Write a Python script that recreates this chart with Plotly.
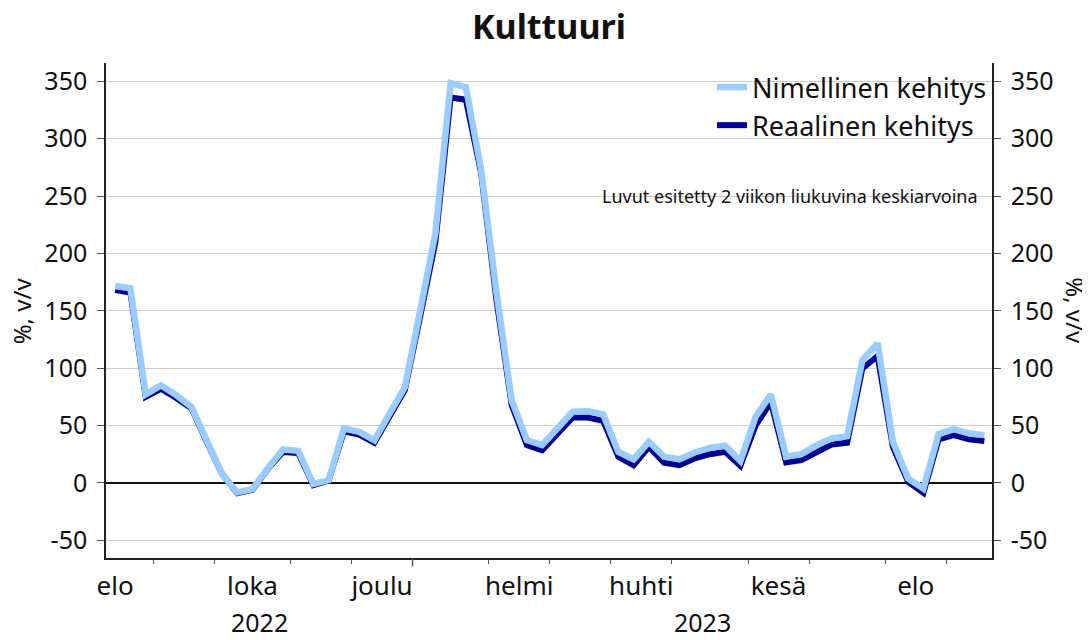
import pandas as pd
import plotly.graph_objects as go

# weekly data, week starting mondays
first_week = "2022-08-15"
n_weeks = 58

nominal = [
    171.6, 169.6, 77.0, 85.0, 76.5, 66.3, 37.0, 8.0, -8.4, -5.5,
    12.5, 29.0, 28.0, -1.0, 2.4, 47.4, 44.5, 37.0, 60.5, 83.5,
    150.0, 217.6, 348.5, 345.0, 273.0, 166.7, 72.0, 37.3, 33.0, 47.5,
    62.0, 62.5, 59.7, 27.0, 20.4, 35.8, 22.7, 20.4, 26.5, 30.5,
    32.3, 19.0, 57.6, 77.0, 22.7, 25.0, 32.9, 38.7, 40.7, 107.0,
    121.6, 35.8, 3.8, -4.9, 42.5, 46.9, 43.0, 41.6,
]
real = [
    168.0, 166.0, 75.0, 82.0, 74.0, 65.0, 36.0, 8.0, -9.0, -6.0,
    12.0, 27.0, 26.0, -2.0, 2.0, 45.0, 42.0, 35.0, 58.0, 81.0,
    145.0, 210.0, 336.0, 334.0, 270.0, 160.0, 68.0, 33.0, 28.5, 43.0,
    57.0, 57.0, 54.0, 22.7, 15.4, 31.4, 17.5, 15.4, 21.3, 25.0,
    27.0, 14.8, 50.0, 70.7, 17.8, 19.8, 27.0, 33.5, 35.0, 99.8,
    110.6, 31.4, 0.9, -8.7, 37.9, 41.6, 37.9, 36.4,
]

y_ticks = [-50, 0, 50, 100, 150, 200, 250, 300, 350]
y_tick_text = [str(v) for v in y_ticks]

month_names = ["tammi", "helmi", "maalis", "huhti", "touko", "kesä",
               "heinä", "elo", "syys", "loka", "marras", "joulu"]

name_nominal = "Nimellinen kehitys"
name_real = "Reaalinen kehitys"
note = "Luvut esitetty 2 viikon liukuvina keskiarvoina"
y_title = "%, v/v"

weeks = pd.date_range(first_week, periods=n_weeks, freq="7D")
half_week = pd.Timedelta(days=3.5)


def month_start(ts):
    # boundary between weeks: half a week before the first monday of the month
    first = ts.to_period("M").to_timestamp()
    first_monday = first + pd.Timedelta(days=(7 - first.weekday()) % 7)
    return first_monday - half_week


months = pd.period_range(weeks[0].to_period("M"), weeks[-1].to_period("M") + 1, freq="M")
bounds = [month_start(m.to_timestamp()) for m in months]
month_centers = [b0 + (b1 - b0) / 2 for b0, b1 in zip(bounds[:-1], bounds[1:])]

x_start = weeks[0] - pd.Timedelta(days=4.2)
x_end = weeks[-1] + half_week
inner_bounds = [b for b in bounds if x_start < b < x_end]
year_bound = [b for b in inner_bounds if b.month == 12 and b.day > 20][0]

label_vals = month_centers[::2]
label_text = [month_names[m.month - 1] for m in months[:-1][::2]]

font = "Noto Sans"

fig = go.Figure()

fig.add_trace(
    go.Scatter(
        x=weeks,
        y=real,
        mode="lines",
        name=name_real,
        legendgroup="real",
        legendrank=2,
        line=dict(color="#000099", width=6),
        yaxis="y",
    )
)
fig.add_trace(
    go.Scatter(
        x=weeks,
        y=nominal,
        mode="lines",
        name=name_nominal,
        legendgroup="nominal",
        legendrank=1,
        line=dict(color="#99CCFF", width=6.5),
        yaxis="y2",
    )
)

axis_common = dict(
    range=[-65.5, 366],
    tickmode="array",
    tickvals=y_ticks,
    ticktext=y_tick_text,
    showline=True,
    linecolor="#222222",
    linewidth=1.5,
    ticks="outside",
    ticklen=7,
    tickcolor="#555555",
    ticklabelstandoff=5,
    tickfont=dict(size=25, color="#111111"),
)

# page body adds 8px around the figure, so the figure is 8px smaller
fig.update_layout(
    width=1082,
    height=632,
    plot_bgcolor="white",
    paper_bgcolor="white",
    font=dict(family=font, color="#111111"),
    margin=dict(l=98, r=98, t=55, b=82, autoexpand=False),
    title=dict(
        text="<b>Kulttuuri</b>",
        font=dict(size=34, family=font, color="#111111"),
        x=0.5,
        xref="paper",
        xanchor="center",
        y=0.97,
        yanchor="middle",
    ),
    xaxis=dict(
        type="date",
        range=[x_start, x_end],
        tickmode="array",
        tickvals=label_vals,
        ticktext=label_text,
        ticks="",
        ticklabelstandoff=4,
        tickfont=dict(size=26, color="#111111"),
        showgrid=False,
        showline=True,
        linecolor="#222222",
        linewidth=1.5,
        minor=dict(
            tickmode="array",
            tickvals=inner_bounds,
            ticks="outside",
            ticklen=4,
            tickcolor="#555555",
            showgrid=False,
        ),
    ),
    yaxis=dict(
        **axis_common,
        showgrid=True,
        gridcolor="#cccccc",
        gridwidth=1,
        zeroline=True,
        zerolinecolor="#111111",
        zerolinewidth=1.5,
    ),
    yaxis2=dict(
        **axis_common,
        overlaying="y",
        side="right",
        matches="y",
        showgrid=False,
        zeroline=False,
    ),
    legend=dict(
        x=1,
        xanchor="right",
        y=1.0,
        yanchor="top",
        font=dict(size=27, color="#111111"),
        bgcolor="rgba(0,0,0,0)",
        tracegroupgap=14,
        traceorder="normal",
    ),
    showlegend=True,
)

# longer tick at the turn of the year
fig.add_shape(
    type="line",
    xref="x",
    yref="paper",
    x0=year_bound,
    x1=year_bound,
    y0=0,
    y1=-0.017,
    line=dict(color="#555555", width=1.5),
)

# year labels centred on the visible part of each year
for y0, y1, label in [(x_start, year_bound, "2022"), (year_bound, x_end, "2023")]:
    fig.add_annotation(
        x=y0 + (y1 - y0) / 2,
        xref="x",
        y=-0.13,
        yref="paper",
        text=label,
        showarrow=False,
        font=dict(size=25, color="#111111"),
        xanchor="center",
        yanchor="middle",
    )

fig.add_annotation(
    x=0.986,
    xref="paper",
    y=0.731,
    yref="paper",
    text=note,
    showarrow=False,
    font=dict(size=18, color="#111111"),
    xanchor="right",
    yanchor="middle",
)

fig.add_annotation(
    x=-0.095,
    xref="paper",
    y=0.5,
    yref="paper",
    text=y_title,
    textangle=-90,
    showarrow=False,
    font=dict(size=24, color="#111111"),
    xanchor="center",
    yanchor="middle",
)
fig.add_annotation(
    x=1.094,
    xref="paper",
    y=0.5,
    yref="paper",
    text=y_title,
    textangle=90,
    showarrow=False,
    font=dict(size=24, color="#111111"),
    xanchor="center",
    yanchor="middle",
)

fig.write_html("out.html")
